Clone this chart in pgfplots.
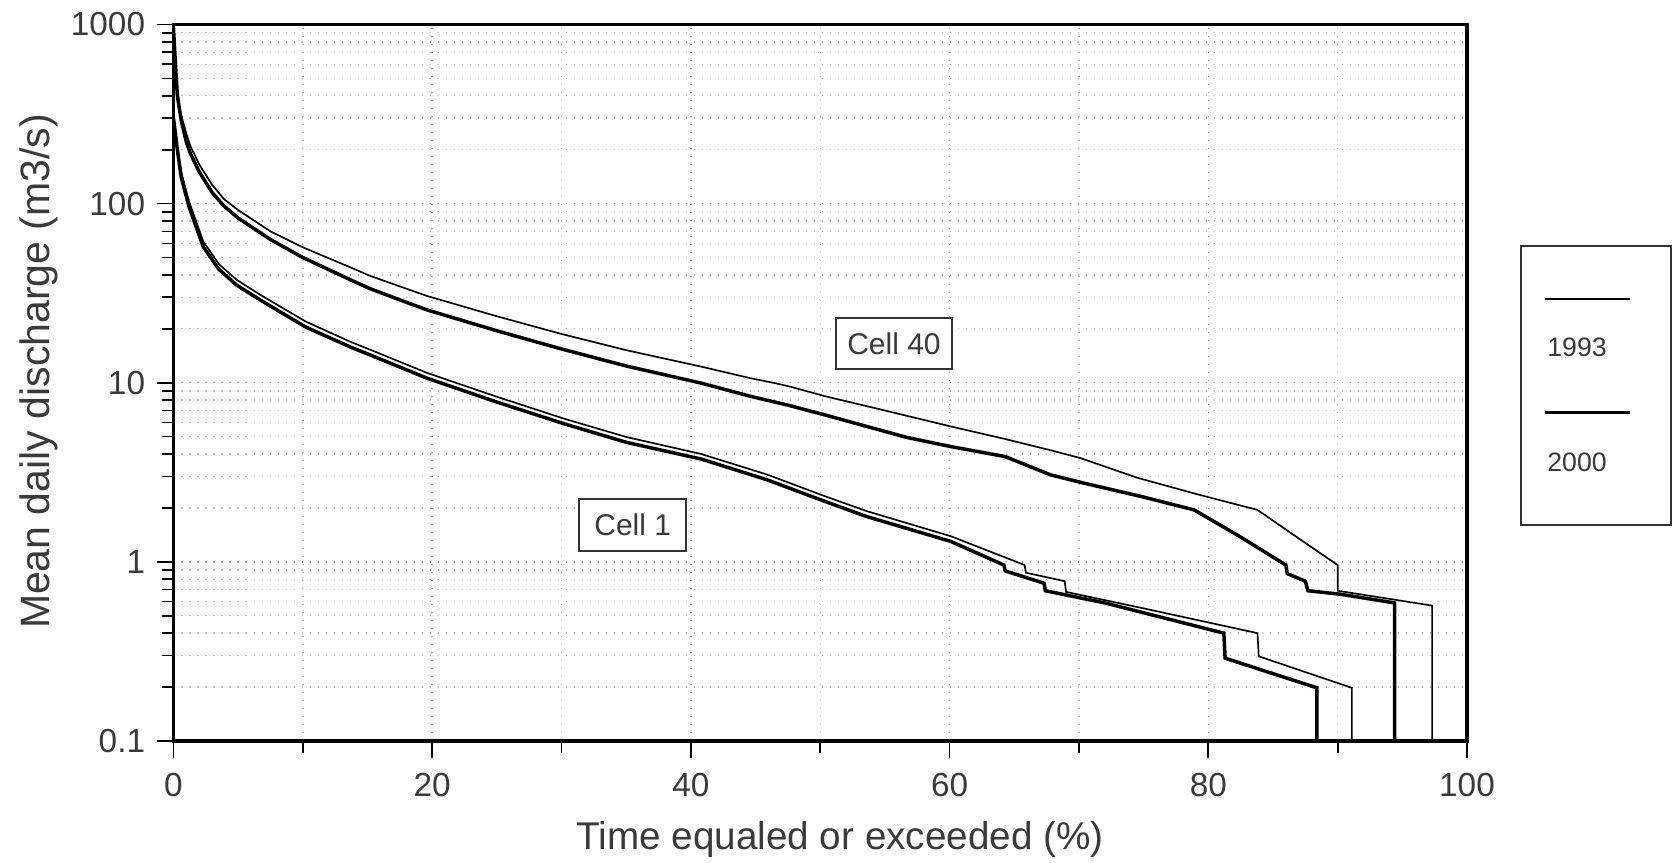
\documentclass[border=0pt]{standalone}
\usepackage{fontspec}
\setmainfont{Liberation Sans}
\usepackage{pgfplots}
\pgfplotsset{compat=1.18}
\definecolor{txt}{HTML}{3A3A3A}
\begin{document}
\begin{tikzpicture}
\begin{axis}[
  at={(0,0)}, anchor=south west,
  scale only axis, width=388.05pt, height=214.95pt,
  xmin=0, xmax=100, ymin=0.1, ymax=1000,
  ymode=log,
  xtick={0,20,40,60,80,100}, xticklabels={0,20,40,60,80,100},
  minor xtick={10,30,50,70,90},
  ytick={0.1,1,10,100,1000}, yticklabels={0.1,1,10,100,1000},
  minor ytick={0.2,0.3,0.4,0.5,0.6,0.7,0.8,0.9,2,3,4,5,6,7,8,9,20,30,40,50,60,70,80,90,200,300,400,500,600,700,800,900},
  xmajorgrids, xminorgrids, ymajorgrids, yminorgrids,
  major grid style={gray!70, dotted, line width=0.45pt},
  minor grid style={gray!50, dotted, line width=0.4pt},
  tick align=outside, xtick pos=bottom, ytick pos=left,
  major tick length=5pt, minor tick length=3.5pt,
  every tick/.style={black, line width=0.5pt},
  axis line style={black, line width=1pt},
  ticklabel style={font=\fontsize{10}{12}\selectfont, text=txt},
  xticklabel style={yshift=-1pt},
  xlabel={Time equaled or exceeded (\%)},
  ylabel={Mean daily discharge (m3/s)},
  xlabel style={font=\fontsize{11.6}{14}\selectfont, text=txt, at={(axis description cs:0.5153,-0.1521)}, anchor=base},
  ylabel style={font=\fontsize{12.3}{14}\selectfont, text=txt, at={(axis description cs:-0.0955,0.5157)}, anchor=base},
]
% Cell 40, 1993 (thin)
\addplot[black, line width=0.5pt, sharp plot, mark=none] coordinates {
(0,800) (0.2,500) (0.5,330) (1.0,245) (1.3,210) (2,165) (3,127) (3.9,106) (5,92) (7.5,70)
(10,57) (13.7,44) (15.2,39.5) (17.5,34.5) (19.6,30.5) (25,23.5) (29.9,18.8) (35,15.2)
(40.8,12.3) (44.6,10.6) (46.5,9.95) (47.7,9.5) (50.4,8.4) (55,7.0) (60.1,5.7) (64.3,4.85)
(67.8,4.2) (70.1,3.8) (74.5,2.95) (79,2.4) (83.8,1.95) (87,1.35) (90,0.96) (90,0.69)
(97.3,0.57) (97.3,0.1)
};
% Cell 40, 2000 (thick)
\addplot[black, line width=1.05pt, sharp plot, mark=none] coordinates {
(0,950) (0.15,600) (0.3,400) (0.6,290) (1.0,220) (1.3,191) (2,150) (3,115) (3.9,97) (5,83)
(7.5,63) (10,50) (13.7,37.5) (15.2,33.5) (17.5,29) (19.6,25.5) (25,19.5) (29.9,15.5)
(35,12.4) (40.8,9.95) (44.6,8.4) (47.5,7.5) (50.4,6.6) (53.6,5.7) (56.7,4.95) (60.1,4.4)
(64.3,3.87) (67.8,3.06) (70.4,2.75) (75,2.3) (78.9,1.95) (82.4,1.39) (86.0,0.96)
(86.1,0.86) (87.5,0.78) (87.7,0.69) (90.2,0.66) (94.4,0.59) (94.4,0.1)
};
% Cell 1, 1993 (thin)
\addplot[black, line width=0.5pt, sharp plot, mark=none] coordinates {
(0,260) (0.3,200) (0.6,150) (1.2,103) (2.3,61.5) (3.5,46) (4.9,37.5) (6.7,31) (10.2,22)
(13.7,16.9) (15.2,15.3) (19.6,11.35) (25,8.35) (30.2,6.3) (35,4.98) (40.8,4.0) (45.9,3.07)
(50.4,2.32) (53.6,1.92) (60.1,1.39) (65.8,0.96) (65.9,0.87) (68.9,0.78) (69.0,0.68) (75,0.55)
(83.8,0.40) (83.9,0.297) (91.1,0.198) (91.1,0.1)
};
% Cell 1, 2000 (thick)
\addplot[black, line width=1.05pt, sharp plot, mark=none] coordinates {
(0,300) (0.3,200) (0.6,140) (1.2,96) (2.3,57.5) (3.5,43) (4.9,35) (6.7,29) (10.2,20.5)
(13.7,15.8) (15.2,14.3) (19.6,10.6) (25,7.8) (30.2,5.9) (35,4.65) (40.8,3.75) (45.9,2.87)
(50.4,2.17) (53.6,1.79) (60.1,1.3) (64.2,0.96) (64.3,0.89) (67.3,0.76) (67.4,0.69) (72,0.59)
(81.2,0.40) (81.3,0.29) (88.4,0.198) (88.4,0.1)
};
\node[draw=black!80, line width=0.6pt, fill=white, minimum width=35pt, minimum height=15.3pt, inner sep=0pt,
  font=\fontsize{9}{10}\selectfont, text=txt] at (axis cs:55.7,16.5) {Cell 40};
\node[draw=black!80, line width=0.6pt, fill=white, minimum width=32.2pt, minimum height=15.7pt, inner sep=0pt,
  font=\fontsize{9}{10}\selectfont, text=txt] at (axis cs:35.5,1.61) {Cell 1};
\end{axis}
% legend
\draw[line width=0.6pt, black!80] (404.25pt,64.8pt) rectangle (449.25pt,148.5pt);
\draw[black, line width=0.5pt] (411.45pt,132.5pt) -- (436.95pt,132.5pt);
\node[anchor=base west, inner sep=0pt, font=\fontsize{8}{9.6}\selectfont, text=txt] at (411.96pt,115.3pt) {1993};
\draw[black, line width=1.05pt] (411.45pt,98.6pt) -- (436.95pt,98.6pt);
\node[anchor=base west, inner sep=0pt, font=\fontsize{8}{9.6}\selectfont, text=txt] at (411.96pt,80.8pt) {2000};
\pgfresetboundingbox
\path[use as bounding box] (-52.05pt,-36.6pt) rectangle (450.45pt,222.3pt);
\end{tikzpicture}
\end{document}
